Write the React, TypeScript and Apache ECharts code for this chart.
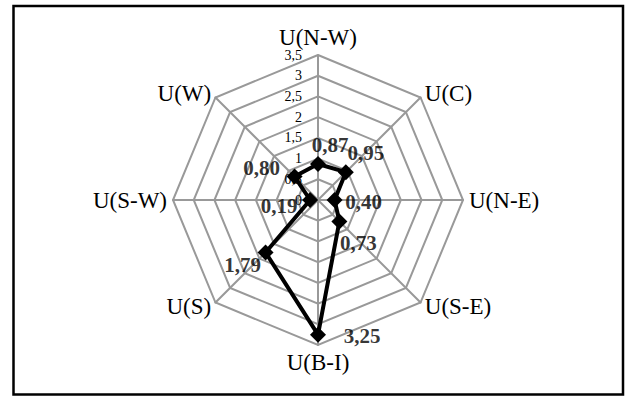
import React, { useEffect, useRef } from "react";
import * as echarts from "echarts";

// Indicators listed clockwise starting from the top
const categories = ["U(N-W)", "U(C)", "U(N-E)", "U(S-E)", "U(B-I)", "U(S)", "U(S-W)", "U(W)"];
const values = [0.87, 0.95, 0.4, 0.73, 3.25, 1.79, 0.19, 0.8];
const axisMax = 3.5;
const tickStep = 0.5;

// label offsets (style only), keyed by category
const labelOffsets: Record<string, [number, number]> = {
  "U(N-W)": [12, -19],
  "U(C)": [20, -19],
  "U(N-E)": [29, 2],
  "U(S-E)": [19, 22],
  "U(B-I)": [44, 1],
  "U(S)": [-23, 13],
  "U(S-W)": [-31, 6],
  "U(W)": [-33, -9],
};

const fmt = (v: number) => v.toFixed(2).replace(".", ",");
const fmtTick = (v: number) => String(v).replace(".", ",");

const FONT = "'Liberation Serif', 'Times New Roman', serif";
const CENTER = [318, 200];
const RADIUS = 145;

export default function App() {
  const ref = useRef<HTMLDivElement>(null);
  useEffect(() => {
    if (!ref.current) return;
    const chart = echarts.init(ref.current, undefined, { renderer: "svg" });
    // ECharts radar goes counter-clockwise: reverse order after the first
    const radarOrder = [0, ...categories.map((_, i) => i).slice(1).reverse()];
    const n = categories.length;
    chart.setOption({
      animation: false,
      backgroundColor: "#ffffff",
      radar: {
        center: CENTER,
        radius: RADIUS,
        startAngle: 90,
        shape: "polygon",
        splitNumber: Math.round(axisMax / tickStep),
        nameGap: 6,
        indicator: radarOrder.map((i) => ({ name: categories[i], min: 0, max: axisMax })),
        axisName: { color: "#000", fontFamily: FONT, fontSize: 23 },
        axisLine: { lineStyle: { color: "#999", width: 2 } },
        splitLine: { lineStyle: { color: "#999", width: 2 } },
        splitArea: { show: false },
        axisTick: { show: false },
        axisLabel: { show: false },
      },
      polar: { center: CENTER, radius: RADIUS },
      angleAxis: {
        type: "value",
        min: 0,
        max: 360,
        startAngle: 90,
        clockwise: true,
        show: false,
      },
      radiusAxis: {
        type: "value",
        min: 0,
        max: axisMax,
        interval: tickStep,
        axisLine: { show: false },
        axisTick: { show: false },
        splitLine: { show: false },
        axisLabel: {
          show: true,
          margin: 16,
          color: "#000",
          fontFamily: FONT,
          fontSize: 14,
          padding: [6, 0, 0, 0],
          formatter: (v: number) => fmtTick(v),
        },
        z: 1,
      },
      series: [
        {
          type: "radar",
          z: 5,
          symbol: "diamond",
          symbolSize: 16,
          itemStyle: { color: "#000" },
          lineStyle: { color: "#000", width: 4 },
          data: [{ value: radarOrder.map((i) => values[i]) }],
        },
        {
          type: "scatter",
          coordinateSystem: "polar",
          symbolSize: 0,
          z: 6,
          itemStyle: { color: "#000" },
          data: categories.map((c, i) => ({
            value: [values[i], (360 / n) * i],
            label: {
              show: true,
              position: "inside",
              offset: labelOffsets[c],
              formatter: () => fmt(values[i]),
              fontFamily: FONT,
              fontSize: 21,
              fontWeight: "bold",
              color: "#000",
              textBorderWidth: 0,
            },
          })),
        },
      ],
      graphic: [
        {
          type: "rect",
          shape: { x: 13.5, y: 6, width: 609.5, height: 388.5 },
          style: { fill: "none", stroke: "#000", lineWidth: 2.5 },
          z: 100,
        },
      ],
    });
    return () => chart.dispose();
  }, []);
  return (
    <div
      ref={ref}
      style={{ position: "fixed", left: 0, top: 0, width: 625, height: 396 }}
    />
  );
}
